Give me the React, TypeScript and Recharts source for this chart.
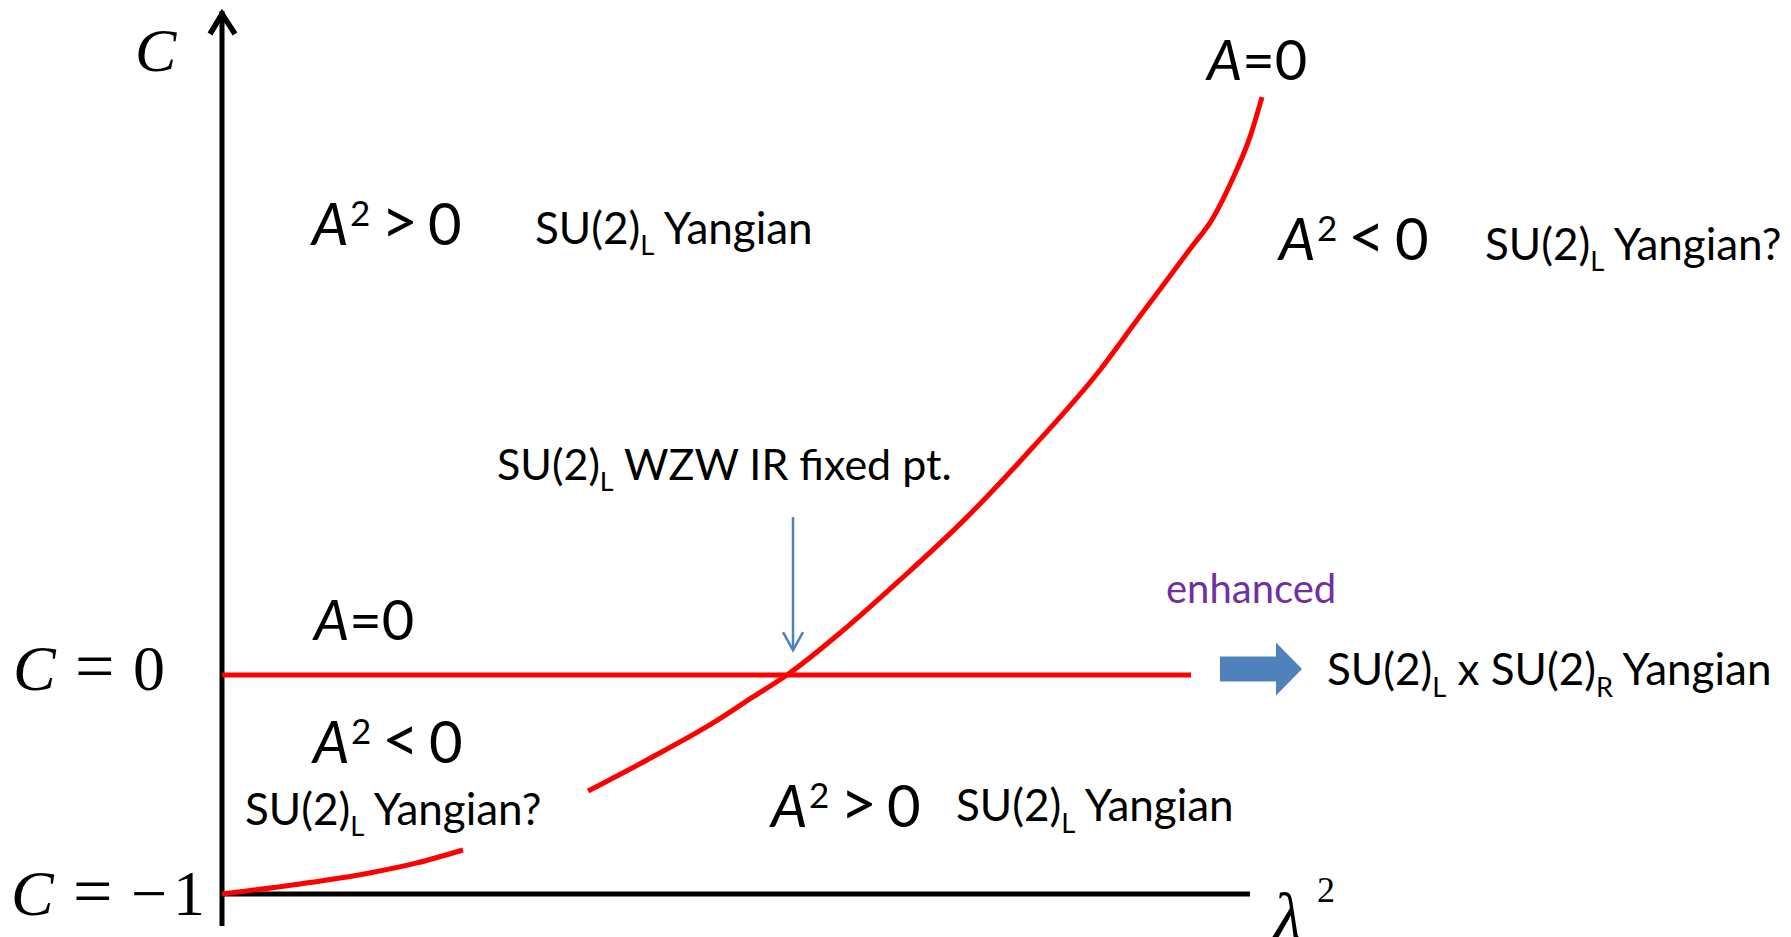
import { LineChart, Line, XAxis, YAxis, ReferenceDot, ReferenceLine } from "recharts";

// lambda^2 (x) and C (y); null marks the gap in the curve
const lambdaCurve = [0, 0.78, 1.45, 1.95, 2.41, 3.0, 3.66, 4.25, 4.91, 5.31, 5.65, 6.25, 6.78, 7.45, 8.11, 8.78, 9.15, 9.45, 9.68, 9.91, 10.11, 10.28, 10.4];
const cCurve = [-1, -0.954, -0.906, -0.858, -0.799, null, -0.53, -0.388, -0.219, -0.1, 0, 0.219, 0.434, 0.721, 1.041, 1.393, 1.621, 1.804, 1.945, 2.087, 2.269, 2.457, 2.639];
const lambdaFlat = [0, 9.69];
const cFlat = [0, 0];
const lambdaAxisEnd = 10.28;
const lambdaDomain = [0, 12];
const cDomain = [-1.146, 3.032];

const curveData = lambdaCurve.map((l, i) => ({ lambda: l, c: cCurve[i] }));
const flatData = lambdaFlat.map((l, i) => ({ lambda: l, c: cFlat[i] }));

const SANS = "Lato, 'Open Sans', sans-serif";
const SERIF = "'Liberation Serif', 'DejaVu Serif', serif";
const RED = "#FF0000";
const BLUE = "#4F81BD";

type Part = { t: string; sub?: boolean };

const Su = (parts: Part[], size: number, color = "#000") => (p: any) => (
    <text x={p.cx} y={p.cy} fontFamily={SANS} fontSize={size} fill={color}>
        {parts.map((part, i) => {
            const prevSub = i > 0 && parts[i - 1].sub;
            const dy = part.sub ? size * 0.26 : prevSub ? -size * 0.26 : 0;
            return (
                <tspan key={i} dy={dy} fontSize={part.sub ? size * 0.62 : size}>
                    {part.t}
                </tspan>
            );
        })}
    </text>
);

const Sign = (rel: string) => (p: any) => (
    <text fontFamily={SANS} fontSize={58} fill="#000">
        <tspan x={p.cx} y={p.cy} fontStyle="italic">A</tspan>
        <tspan x={p.cx + 38} y={p.cy - 19} fontSize={35}>2</tspan>
        <tspan x={p.cx + 69} y={p.cy - 1} fontSize={64}>{rel}</tspan>
        <tspan x={p.cx + 116} y={p.cy}>0</tspan>
    </text>
);

const AZero = (p: any) => (
    <text x={p.cx} y={p.cy} fontFamily={SANS} fontSize={56} fill="#000">
        <tspan fontStyle="italic">A</tspan>=0
    </text>
);

const CEq = (rhs: string[]) => (p: any) => (
    <text fontFamily={SERIF} fontSize={64} fill="#000">
        <tspan x={p.cx - 2} y={p.cy} fontStyle="italic">C</tspan>
        <tspan x={p.cx + 60} y={p.cy} fontSize={70}>=</tspan>
        {rhs.map((s, i) => (
            <tspan key={i} x={p.cx + 118 + i * 42} y={p.cy}>{s}</tspan>
        ))}
    </text>
);

const CTitle = (p: any) => (
    <text x={p.cx} y={p.cy} fontFamily={SERIF} fontSize={62} fontStyle="italic" fill="#000">C</text>
);

const LambdaTitle = (p: any) => (
    <text fontFamily={SERIF} fontSize={68} fill="#000">
        <tspan x={p.cx} y={p.cy} fontStyle="italic">λ</tspan>
        <tspan x={p.cx + 44} y={p.cy - 38} fontSize={36}>2</tspan>
    </text>
);

const AxisHead = (p: any) => (
    <path d={`M${p.cx - 12},${p.cy + 23} L${p.cx},${p.cy + 3} L${p.cx + 13},${p.cy + 23}`}
          stroke="#000" strokeWidth={5.5} fill="none" />
);

const ThinHead = (p: any) => (
    <path d={`M${p.cx - 10},${p.cy - 18} L${p.cx},${p.cy} L${p.cx + 10},${p.cy - 18}`}
          stroke={BLUE} strokeWidth={2.5} fill="none" />
);

const BlockArrow = (p: any) => {
    const { cx, cy } = p;
    const pts = [
        [cx, cy - 12.5], [cx + 56, cy - 12.5], [cx + 56, cy - 26.5], [cx + 82, cy],
        [cx + 56, cy + 26.5], [cx + 56, cy + 12.5], [cx, cy + 12.5],
    ].map(q => q.join(",")).join(" ");
    return <polygon points={pts} fill={BLUE} />;
};

const yangian: Part[] = [{ t: "SU(2)" }, { t: "L", sub: true }, { t: " Yangian" }];
const yangianQ: Part[] = [{ t: "SU(2)" }, { t: "L", sub: true }, { t: " Yangian?" }];
const wzw: Part[] = [{ t: "SU(2)" }, { t: "L", sub: true }, { t: " WZW IR fixed pt." }];
const lr: Part[] = [{ t: "SU(2)" }, { t: "L", sub: true }, { t: " x SU(2)" }, { t: "R", sub: true }, { t: " Yangian" }];

const notes = [
    { x: -0.87, y: 2.758, shape: CTitle },
    { x: 9.85, y: 2.717, shape: AZero },
    { x: 0.9, y: 1.963, shape: Sign(">") },
    { x: 3.13, y: 1.968, shape: Su(yangian, 44) },
    { x: 10.57, y: 1.895, shape: Sign("<") },
    { x: 12.63, y: 1.895, shape: Su(yangianQ, 44) },
    { x: 2.75, y: 0.89, shape: Su(wzw, 43) },
    { x: 9.44, y: 0.329, shape: Su([{ t: "enhanced" }], 40, "#7030A0") },
    { x: 0.92, y: 0.16, shape: AZero },
    { x: -2.07, y: -0.068, shape: CEq(["0"]) },
    { x: 0.91, y: -0.402, shape: Sign("<") },
    { x: 0.23, y: -0.685, shape: Su(yangianQ, 44) },
    { x: 5.49, y: -0.694, shape: Sign(">") },
    { x: 7.34, y: -0.667, shape: Su(yangian, 44) },
    { x: -2.09, y: -1.096, shape: CEq(["−", "1"]) },
    { x: 10.51, y: -1.21, shape: LambdaTitle },
    { x: 11.05, y: -0.046, shape: Su(lr, 44) },
    { x: 9.98, y: 0.027, shape: BlockArrow },
];

export default function App() {
    return (
        <div style={{ position: "absolute", left: 0, top: 0, width: 1791, height: 937, background: "#fff" }}>
            <LineChart width={1791} height={937} margin={{ top: 11, right: 369, bottom: 11, left: 222 }}>
                <XAxis type="number" dataKey="lambda" domain={lambdaDomain} allowDataOverflow hide />
                <YAxis type="number" dataKey="c" domain={cDomain} allowDataOverflow hide />
                <ReferenceLine segment={[{ x: 0, y: cDomain[0] }, { x: 0, y: cDomain[1] }]}
                               stroke="#000" strokeWidth={5} ifOverflow="visible" />
                <ReferenceLine segment={[{ x: 0, y: -1 }, { x: lambdaAxisEnd, y: -1 }]}
                               stroke="#000" strokeWidth={5} ifOverflow="visible" />
                <ReferenceDot x={0} y={cDomain[1]} r={0} ifOverflow="visible" shape={AxisHead} />
                <ReferenceLine segment={[{ x: 5.71, y: 0.721 }, { x: 5.71, y: 0.114 }]}
                               stroke={BLUE} strokeWidth={2.5} />
                <ReferenceDot x={5.71} y={0.114} r={0} ifOverflow="visible" shape={ThinHead} />
                <Line data={flatData} dataKey="c" type="linear" stroke={RED} strokeWidth={5}
                      dot={false} activeDot={false} isAnimationActive={false} />
                <Line data={curveData} dataKey="c" type="monotone" stroke={RED} strokeWidth={5}
                      dot={false} activeDot={false} connectNulls={false} isAnimationActive={false} />
                {notes.map((n, i) => (
                    <ReferenceDot key={i} x={n.x} y={n.y} r={0} ifOverflow="visible" shape={n.shape} />
                ))}
            </LineChart>
        </div>
    );
}
